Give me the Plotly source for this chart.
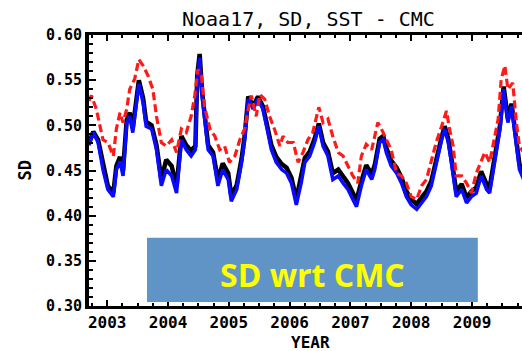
import plotly.graph_objects as go

# ---- data ----
years = [2002.70, 2002.77, 2002.85, 2002.93, 2003.01, 2003.10, 2003.15, 2003.21, 2003.26, 2003.32,
         2003.37, 2003.42, 2003.48, 2003.52, 2003.59, 2003.64, 2003.73, 2003.81, 2003.89, 2003.97,
         2004.06, 2004.14, 2004.22, 2004.30, 2004.38, 2004.45, 2004.48, 2004.52, 2004.56, 2004.60,
         2004.66, 2004.74, 2004.82, 2004.90, 2004.99, 2005.04, 2005.13, 2005.21, 2005.26, 2005.32,
         2005.40, 2005.48, 2005.56, 2005.62, 2005.70, 2005.78, 2005.87, 2005.95, 2006.03, 2006.11,
         2006.19, 2006.25, 2006.33, 2006.41, 2006.48, 2006.55, 2006.63, 2006.71, 2006.80, 2006.88,
         2006.96, 2007.04, 2007.10, 2007.18, 2007.26, 2007.35, 2007.40, 2007.48, 2007.54, 2007.59,
         2007.67, 2007.76, 2007.84, 2007.92, 2008.00, 2008.09, 2008.17, 2008.25, 2008.33, 2008.41,
         2008.50, 2008.55, 2008.61, 2008.66, 2008.74, 2008.83, 2008.91, 2008.99, 2009.07, 2009.15,
         2009.24, 2009.29, 2009.37, 2009.46, 2009.52, 2009.59, 2009.65, 2009.70, 2009.78, 2009.85]

sd_black = [0.480, 0.493, 0.484, 0.456, 0.433, 0.425, 0.455, 0.465, 0.450, 0.506,
            0.514, 0.497, 0.528, 0.550, 0.530, 0.504, 0.500, 0.478, 0.440, 0.462,
            0.455, 0.432, 0.488, 0.478, 0.472, 0.477, 0.555, 0.579, 0.537, 0.513,
            0.478, 0.470, 0.440, 0.458, 0.447, 0.422, 0.434, 0.463, 0.488, 0.532,
            0.521, 0.532, 0.521, 0.503, 0.478, 0.465, 0.457, 0.453, 0.442, 0.418,
            0.442, 0.464, 0.471, 0.485, 0.502, 0.481, 0.471, 0.447, 0.451, 0.443,
            0.436, 0.425, 0.417, 0.438, 0.456, 0.446, 0.456, 0.485, 0.488, 0.475,
            0.461, 0.453, 0.442, 0.427, 0.418, 0.413, 0.420, 0.427, 0.438, 0.463,
            0.487, 0.499, 0.485, 0.464, 0.427, 0.435, 0.420, 0.427, 0.431, 0.449,
            0.435, 0.431, 0.464, 0.500, 0.543, 0.507, 0.524, 0.497, 0.457, 0.446]

sd_blue = [0.478, 0.492, 0.481, 0.451, 0.429, 0.421, 0.451, 0.460, 0.444, 0.503,
           0.510, 0.492, 0.525, 0.546, 0.525, 0.499, 0.496, 0.473, 0.433, 0.451,
           0.444, 0.425, 0.484, 0.473, 0.466, 0.473, 0.551, 0.575, 0.533, 0.510,
           0.473, 0.466, 0.433, 0.451, 0.440, 0.416, 0.429, 0.459, 0.484, 0.529,
           0.518, 0.529, 0.518, 0.499, 0.473, 0.459, 0.451, 0.447, 0.436, 0.412,
           0.436, 0.459, 0.466, 0.481, 0.499, 0.477, 0.466, 0.440, 0.444, 0.436,
           0.429, 0.418, 0.410, 0.433, 0.451, 0.440, 0.451, 0.481, 0.484, 0.470,
           0.455, 0.447, 0.436, 0.421, 0.412, 0.407, 0.414, 0.421, 0.433, 0.459,
           0.484, 0.496, 0.481, 0.459, 0.421, 0.429, 0.414, 0.421, 0.425, 0.444,
           0.429, 0.425, 0.459, 0.496, 0.540, 0.503, 0.521, 0.492, 0.451, 0.440]

years_red = [2002.70, 2002.74, 2002.82, 2002.88, 2002.93, 2003.01, 2003.10, 2003.15, 2003.21, 2003.26,
             2003.32, 2003.37, 2003.45, 2003.52, 2003.59, 2003.67, 2003.75, 2003.81, 2003.89, 2003.97,
             2004.06, 2004.14, 2004.22, 2004.30, 2004.38, 2004.44, 2004.49, 2004.55, 2004.60, 2004.69,
             2004.77, 2004.85, 2004.93, 2005.01, 2005.10, 2005.18, 2005.26, 2005.32, 2005.37, 2005.45,
             2005.51, 2005.59, 2005.67, 2005.75, 2005.84, 2005.89, 2005.97, 2006.06, 2006.14, 2006.22,
             2006.30, 2006.38, 2006.48, 2006.55, 2006.63, 2006.71, 2006.80, 2006.88, 2006.96, 2007.04,
             2007.12, 2007.18, 2007.26, 2007.35, 2007.40, 2007.45, 2007.51, 2007.59, 2007.67, 2007.76,
             2007.84, 2007.92, 2008.00, 2008.09, 2008.17, 2008.25, 2008.33, 2008.41, 2008.50, 2008.58,
             2008.63, 2008.69, 2008.74, 2008.83, 2008.91, 2008.99, 2009.07, 2009.15, 2009.21, 2009.29,
             2009.35, 2009.43, 2009.48, 2009.54, 2009.59, 2009.67, 2009.73, 2009.78, 2009.85]

sd_red = [0.527, 0.533, 0.518, 0.499, 0.484, 0.481, 0.466, 0.496, 0.514, 0.503,
          0.518, 0.540, 0.551, 0.573, 0.566, 0.555, 0.540, 0.510, 0.481, 0.477,
          0.484, 0.470, 0.496, 0.492, 0.510, 0.533, 0.562, 0.555, 0.521, 0.496,
          0.488, 0.473, 0.477, 0.459, 0.466, 0.484, 0.496, 0.518, 0.533, 0.510,
          0.534, 0.529, 0.510, 0.496, 0.477, 0.488, 0.481, 0.481, 0.459, 0.470,
          0.484, 0.492, 0.520, 0.503, 0.507, 0.488, 0.470, 0.466, 0.455, 0.444,
          0.436, 0.466, 0.479, 0.473, 0.488, 0.503, 0.496, 0.484, 0.473, 0.447,
          0.444, 0.436, 0.421, 0.418, 0.433, 0.440, 0.459, 0.481, 0.499, 0.516,
          0.496, 0.477, 0.444, 0.444, 0.436, 0.425, 0.447, 0.459, 0.470, 0.459,
          0.481, 0.507, 0.551, 0.566, 0.540, 0.547, 0.503, 0.477, 0.470]

x_range = [2002.70, 2009.822]
y_range = [0.30, 0.60]

MONO = "DejaVu Sans Mono"

fig = go.Figure()
fig.add_trace(go.Scatter(x=years, y=sd_black, mode="lines",
                         line=dict(color="black", width=4.5), showlegend=False))
fig.add_trace(go.Scatter(x=years, y=sd_blue, mode="lines",
                         line=dict(color="#0a0aff", width=3.5), showlegend=False))
fig.add_trace(go.Scatter(x=years_red, y=sd_red, mode="lines",
                         line=dict(color="#ff1a1a", width=3.2, dash="8px,4px"), showlegend=False))

fig.update_layout(
    width=522, height=351,
    margin=dict(l=89, r=0, t=35, b=45, pad=0),
    paper_bgcolor="white", plot_bgcolor="white",
    xaxis=dict(range=x_range, showline=True, linecolor="black", linewidth=3, mirror="allticks",
               tickmode="linear", tick0=2003, dtick=1, tickformat="d",
               ticks="inside", tickcolor="black", ticklen=6, tickwidth=2,
               showgrid=False, zeroline=False,
               tickfont=dict(family=MONO, size=16, color="black", weight="bold"),
               minor=dict(ticks="inside", ticklen=3, tickwidth=2, dtick=0.25, tick0=2003,
                          tickcolor="black", showgrid=False)),
    yaxis=dict(range=y_range, showline=True, linecolor="black", linewidth=4,
               tickmode="linear", tick0=0.30, dtick=0.05, tickformat=".2f",
               ticks="inside", tickcolor="black", ticklen=7, tickwidth=2,
               showgrid=False, zeroline=False,
               tickfont=dict(family=MONO, size=15, color="black", weight="bold"),
               minor=dict(ticks="inside", ticklen=3.5, tickwidth=2, dtick=0.01, tick0=0.30,
                          tickcolor="black", showgrid=False)),
    shapes=[dict(type="rect", xref="paper", yref="paper", x0=0.134, x1=0.898, y0=0.015, y1=0.252,
                 fillcolor="#6094c7", line=dict(width=0), layer="above")],
    annotations=[
        dict(text="Noaa17, SD, SST - CMC", xref="paper", yref="paper", x=0.508, y=1.059,
             xanchor="center", yanchor="middle", showarrow=False,
             font=dict(family=MONO, size=20, color="black")),
        dict(text="YEAR", xref="paper", yref="paper", x=0.511, y=-0.135,
             xanchor="center", yanchor="middle", showarrow=False,
             font=dict(family=MONO, size=16, color="black", weight="bold")),
        dict(text="SD", xref="paper", yref="paper", x=-0.148, y=0.50, textangle=-90,
             xanchor="center", yanchor="middle", showarrow=False,
             font=dict(family=MONO, size=17, color="black", weight="bold")),
        dict(text="SD wrt CMC", xref="paper", yref="paper", x=0.517, y=0.118,
             xanchor="center", yanchor="middle", showarrow=False,
             font=dict(family="Open Sans", size=32, color="#ffff00", weight="bold")),
    ],
)

fig.write_html("out.html")
